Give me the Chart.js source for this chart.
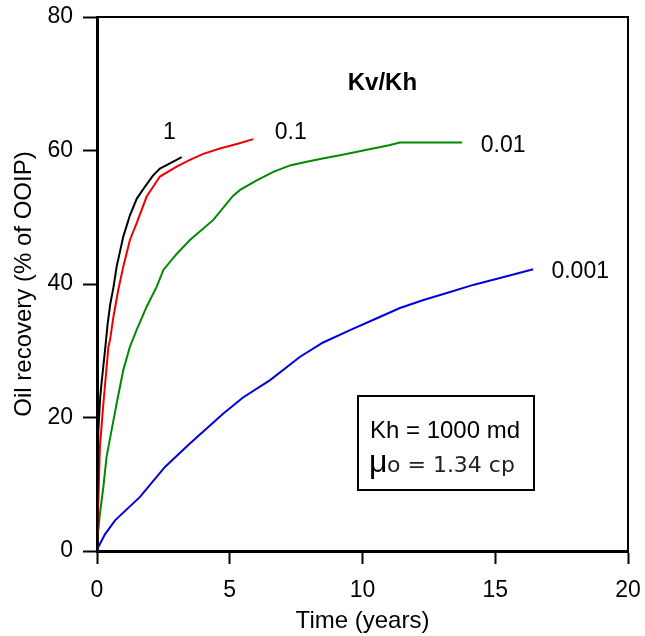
<!DOCTYPE html>
<html lang="en">
<head>
    <meta charset="UTF-8">
    <title>Oil recovery vs time</title>
    <script src="https://cdn.jsdelivr.net/npm/chart.js"></script>
    <style>
        body { margin: 0; background: #fff; }
        canvas { display: block; }
    </style>
</head>
<body>
    <canvas id="recoveryChart" width="645" height="636"></canvas>

    <script>
        // Kv/Kh cases
        const ratioLabels = ['1', '0.1', '0.01', '0.001'];
        const lineColors = ['#000000', '#ee0000', '#008a00', '#0000dd'];

        // Time (years) and recovery (% of OOIP)
        const timeKv1 = [0, 0.02, 0.05, 0.12, 0.18, 0.3, 0.4, 0.5, 0.62, 0.74, 0.99, 1.24, 1.5, 1.81, 2.1, 2.37, 2.8, 3.19];
        const recKv1  = [0, 8, 18, 23, 25.5, 30, 34, 37, 39.5, 42.6, 47.1, 50.3, 52.8, 54.6, 56.2, 57.3, 58.2, 59.0];

        const timeKv01 = [0, 0.04, 0.11, 0.24, 0.35, 0.43, 0.49, 0.62, 0.8, 0.99, 1.24, 1.49, 1.87, 2.37, 3.0, 3.5, 4.0, 4.63, 5.3, 5.89];
        const recKv01  = [0, 6, 15.6, 22.1, 27, 30.6, 31.6, 35.1, 39.1, 42.6, 46.6, 49.1, 53.1, 56.1, 57.6, 58.6, 59.5, 60.3, 61.0, 61.7];

        const timeKv001 = [0, 0.01, 0.11, 0.24, 0.36, 0.55, 0.74, 0.99, 1.24, 1.49, 1.87, 2.25, 2.5, 3.0, 3.5, 4.38, 5.12, 5.39, 6.0, 6.64, 7.3, 7.9, 8.5, 9.15, 9.8, 10.4, 11.0, 11.41, 13.75];
        const recKv001  = [0, 1.6, 5.6, 9.6, 14.1, 18.1, 22.1, 27.1, 30.6, 33.1, 36.6, 39.6, 42.1, 44.5, 46.6, 49.6, 53.2, 54.1, 55.5, 56.8, 57.8, 58.3, 58.8, 59.3, 59.8, 60.3, 60.8, 61.2, 61.2];

        const timeKv0001 = [0, 0.05, 0.3, 0.68, 1.62, 2.56, 3.5, 4.76, 5.5, 6.52, 7.65, 8.5, 9.53, 10.5, 11.41, 12.3, 13.3, 14.2, 15.18, 16.43];
        const recKv0001  = [0, 0.6, 2.5, 4.6, 8.1, 12.6, 16.1, 20.6, 23, 25.6, 29.1, 31.2, 33.1, 34.8, 36.4, 37.6, 38.8, 39.9, 40.9, 42.2];

        const xTicks = [0, 5, 10, 15, 20];
        const yTicks = [0, 20, 40, 60, 80];

        const seriesTimes = [timeKv1, timeKv01, timeKv001, timeKv0001];
        const seriesRecs = [recKv1, recKv01, recKv001, recKv0001];

        const FONT = 'Arial, "Liberation Sans", sans-serif';
        Chart.defaults.font.family = FONT;
        Chart.defaults.color = '#000';

        const datasets = seriesTimes.map((times, i) => ({
            label: ratioLabels[i],
            data: times.map((t, j) => ({ x: t, y: seriesRecs[i][j] })),
            borderColor: lineColors[i],
            borderWidth: 2,
            pointRadius: 0,
            tension: 0,
            fill: false
        }));

        // frame on top and right + text annotations
        const annotations = {
            id: 'annotations',
            afterDatasetsDraw(chart) {
                const { ctx, chartArea, scales } = chart;
                const x = scales.x, y = scales.y;
                ctx.save();
                ctx.strokeStyle = '#000';
                ctx.lineWidth = 2;
                ctx.beginPath();
                ctx.moveTo(chartArea.left, chartArea.top);
                ctx.lineTo(chartArea.right, chartArea.top);
                ctx.lineTo(chartArea.right, chartArea.bottom);
                ctx.stroke();

                ctx.fillStyle = '#000';
                ctx.textAlign = 'center';
                ctx.textBaseline = 'middle';
                ctx.font = 'bold 24px ' + FONT;
                ctx.fillText('Kv/Kh', x.getPixelForValue(10.75), y.getPixelForValue(70));

                // curve labels
                ctx.font = '23px ' + FONT;
                const labelAt = [[2.73, 62.6], [7.3, 62.6], [15.3, 60.8], [18.2, 41.9]];
                labelAt.forEach((p, i) => {
                    ctx.fillText(ratioLabels[i], x.getPixelForValue(p[0]), y.getPixelForValue(p[1]));
                });

                // info box
                ctx.lineWidth = 2;
                ctx.strokeRect(358, 396, 176, 94);
                ctx.font = '24px ' + FONT;
                ctx.fillText('Kh = 1000 md', 445, 431);
                ctx.textAlign = 'left';
                ctx.textBaseline = 'alphabetic';
                ctx.font = '32px ' + FONT;
                ctx.fillText('\u03bc', 369, 472);
                ctx.fillStyle = '#222';
                ctx.font = '22px "DejaVu Sans", sans-serif';
                ctx.fillText('o = 1.34 cp', 387, 472);
                ctx.restore();
            }
        };

        const ctx = document.getElementById('recoveryChart').getContext('2d');
        new Chart(ctx, {
            type: 'line',
            data: { datasets: datasets },
            options: {
                responsive: false,
                animation: false,
                devicePixelRatio: 1,
                layout: { padding: { top: 17, right: 17, left: 0, bottom: 0 } },
                plugins: { legend: { display: false }, tooltip: { enabled: false } },
                scales: {
                    x: {
                        type: 'linear',
                        min: 0,
                        max: 20,
                        afterBuildTicks: s => { s.ticks = xTicks.map(v => ({ value: v })); },
                        afterFit: s => { s.height = 85; s.paddingLeft = 0; s.paddingRight = 0; },
                        ticks: { font: { size: 23 }, color: '#000', padding: 13, maxRotation: 0 },
                        grid: { drawOnChartArea: false, drawTicks: true, tickLength: 13, tickWidth: 2, tickColor: '#000' },
                        border: { display: true, width: 3, color: '#000' },
                        title: { display: true, text: 'Time (years)', font: { size: 24 }, color: '#000', padding: { top: 0, bottom: 0 } }
                    },
                    y: {
                        min: 0,
                        max: 80,
                        afterBuildTicks: s => { s.ticks = yTicks.map(v => ({ value: v })); },
                        afterFit: s => { s.width = 97; s.paddingTop = 0; s.paddingBottom = 0; },
                        ticks: { font: { size: 23 }, color: '#000', padding: 10 },
                        grid: { drawOnChartArea: false, drawTicks: true, tickLength: 14, tickWidth: 2, tickColor: '#000' },
                        border: { display: true, width: 3, color: '#000' },
                        title: { display: true, text: 'Oil recovery (% of OOIP)', font: { size: 24 }, color: '#000', padding: { top: 10, bottom: 0 } }
                    }
                }
            },
            plugins: [annotations]
        });
    </script>
</body>
</html>
